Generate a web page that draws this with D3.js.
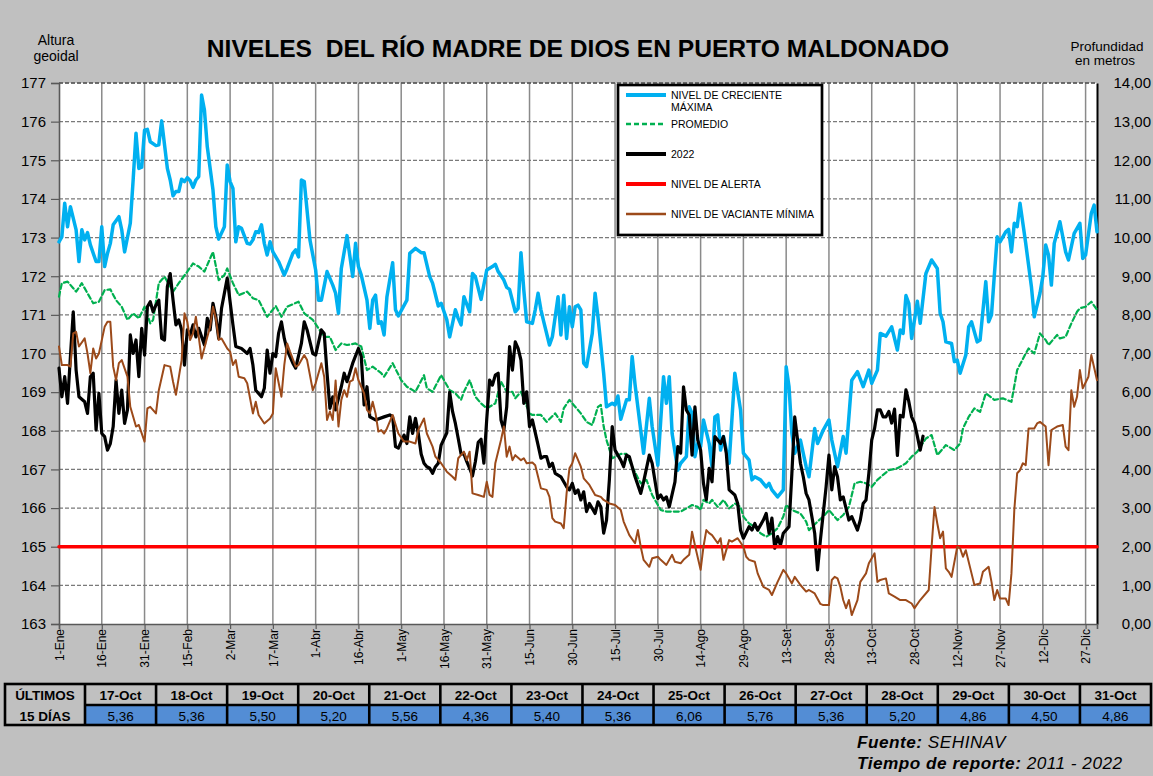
<!DOCTYPE html>
<html><head><meta charset="utf-8">
<script src="https://cdn.jsdelivr.net/npm/d3@7"></script>
<style>
html,body{margin:0;padding:0;background:#c0c0c0;}
svg{display:block;font-family:"Liberation Sans",Arial,sans-serif;}
</style></head><body>
<svg id="c" width="1153" height="776"></svg>
<script>
// ---------------- DATA ----------------
const tickLabels = ["1-Ene","16-Ene","31-Ene","15-Feb","2-Mar","17-Mar","1-Abr","16-Abr","1-May","16-May","31-May","15-Jun","30-Jun","15-Jul","30-Jul","14-Ago","29-Ago","13-Set","28-Set","13-Oct","28-Oct","12-Nov","27-Nov","12-Dic","27-Dic"];
const tickDays = [0,15,30,45,60,75,90,105,120,135,150,165,180,195,210,225,240,255,270,285,300,315,330,345,360];
const leftTicks = [163,164,165,166,167,168,169,170,171,172,173,174,175,176,177];
const rightTicks = [0,1,2,3,4,5,6,7,8,9,10,11,12,13,14];
const alertLevel = 165;

// [day of year (0 = 1-Ene), altura geoidal]
const maxSeries = [[0,172.89],[1,173.02],[2,173.89],[3,173.28],[4,173.80],[6,173.20],[7,172.38],[8,173.20],[9,172.94],[10,173.13],[11,172.81],[13,172.38],[14,172.38],[15,173.28],[16,172.25],[17,172.59],[18,172.85],[19,173.33],[21,173.54],[22,173.20],[23,172.63],[25,173.37],[26,174.49],[27,175.70],[28,174.79],[29,174.82],[30,175.78],[31,175.80],[32,175.48],[34,175.38],[35,175.40],[36,176.02],[38,174.79],[39,174.49],[40,174.08],[41,174.19],[42,174.19],[43,174.51],[44,174.45],[45,174.55],[46,174.47],[47,174.30],[48,174.49],[49,174.58],[50,176.69],[51,176.30],[52,175.35],[54,174.23],[55,173.28],[56,172.96],[58,173.28],[59,174.88],[60,174.45],[61,174.27],[62,172.89],[63,173.28],[64,173.24],[66,172.85],[67,172.83],[68,172.94],[69,173.15],[70,173.13],[71,173.33],[72,172.85],[73,172.55],[74,172.89],[75,172.63],[77,172.38],[79,172.03],[80,172.20],[82,172.59],[83,172.68],[84,172.50],[85,174.49],[86,174.45],[88,172.94],[90,172.16],[91,171.38],[92,171.38],[94,172.12],[96,171.77],[97,171.56],[98,171.04],[99,172.20],[101,173.05],[103,171.99],[104,172.85],[105,172.25],[106,172.03],[108,171.38],[109,170.65],[110,171.38],[111,171.51],[112,170.78],[113,170.82],[114,170.48],[115,171.47],[117,172.35],[118,171.13],[119,170.97],[122,171.38],[123,172.59],[125,172.72],[127,172.61],[128,172.61],[130,171.99],[131,171.82],[133,171.23],[134,171.30],[136,170.87],[137,170.43],[139,171.13],[140,170.91],[141,170.74],[142,171.47],[144,171.08],[145,172.07],[146,171.99],[148,171.40],[150,172.16],[152,172.25],[153,172.31],[154,172.12],[156,171.90],[157,171.71],[158,171.66],[160,171.08],[161,171.17],[162,172.61],[163,171.64],[164,170.82],[166,170.78],[167,171.13],[168,171.56],[169,171.13],[170,170.82],[172,170.22],[173,170.43],[175,171.47],[176,170.48],[177,171.51],[178,170.39],[179,171.21],[180,170.69],[181,171.21],[182,171.25],[183,171.13],[184,169.75],[185,169.66],[187,170.52],[188,171.56],[189,170.95],[191,169.49],[192,168.62],[194,168.71],[195,168.67],[196,168.90],[197,168.30],[199,168.80],[200,168.80],[201,169.92],[202,169.20],[205,167.42],[207,168.84],[208,168.11],[210,167.11],[212,169.40],[213,168.71],[214,169.40],[215,167.93],[217,166.98],[218,167.16],[220,167.33],[221,168.62],[222,168.45],[223,167.33],[224,167.67],[225,167.59],[226,168.28],[228,167.67],[229,167.07],[230,168.36],[231,168.41],[232,167.50],[233,167.85],[235,167.16],[237,169.49],[239,168.54],[240,167.42],[242,167.24],[243,166.73],[244,166.81],[246,166.73],[248,166.55],[249,166.64],[250,166.47],[252,166.29],[254,166.47],[255,169.66],[256,169.14],[257,167.93],[258,167.42],[260,167.76],[262,167.07],[263,166.81],[265,168.06],[266,167.67],[268,168.02],[270,168.28],[271,167.76],[273,167.07],[275,167.85],[276,167.42],[278,169.31],[280,169.53],[282,169.14],[284,169.57],[285,169.23],[287,169.57],[288,170.52],[290,170.45],[292,170.69],[294,170.09],[295,170.61],[296,170.52],[297,171.50],[298,171.30],[299,170.39],[301,171.35],[302,170.78],[304,172.07],[306,172.42],[308,172.20],[309,171.04],[310,170.82],[311,170.30],[313,170.26],[314,169.79],[315,169.83],[316,169.49],[318,169.96],[319,170.69],[320,170.82],[322,170.30],[323,170.35],[325,171.86],[326,170.82],[327,171.00],[328,172.03],[329,173.02],[330,172.89],[332,173.15],[333,173.21],[334,172.63],[335,173.37],[336,173.28],[337,173.89],[339,172.85],[341,171.73],[342,170.95],[344,171.56],[345,171.99],[346,172.81],[347,172.55],[348,171.77],[349,172.85],[351,173.41],[353,172.63],[354,172.42],[356,173.11],[358,173.37],[359,172.46],[360,172.55],[362,173.63],[363,173.84],[364,173.15]];

const avgSeries = [[0,171.47],[1,171.82],[3,171.86],[5,171.69],[6,171.60],[8,171.82],[10,171.56],[12,171.30],[14,171.34],[16,171.64],[18,171.66],[20,171.38],[22,171.21],[24,170.87],[26,171.04],[28,170.91],[30,171.21],[32,170.78],[33,170.87],[35,171.82],[37,171.99],[40,171.60],[42,171.82],[45,172.12],[47,172.33],[49,172.25],[51,172.12],[54,172.63],[56,171.90],[58,172.03],[59,172.20],[61,171.82],[63,171.51],[66,171.60],[68,171.43],[70,171.38],[73,170.95],[76,171.23],[78,170.95],[80,171.21],[84,171.34],[86,171.04],[89,170.87],[91,170.65],[93,170.43],[95,170.43],[97,170.09],[99,170.26],[101,170.22],[104,170.26],[106,170.18],[108,169.57],[110,169.66],[113,169.49],[114,169.40],[117,169.75],[120,169.31],[122,169.14],[125,169.01],[128,169.44],[129,169.10],[131,169.01],[134,169.44],[137,169.05],[139,168.97],[141,168.80],[142,169.01],[144,169.31],[146,168.88],[148,168.71],[150,168.58],[153,168.71],[155,169.27],[157,169.01],[159,169.01],[160,168.84],[162,169.01],[165,168.45],[166,168.41],[169,168.41],[171,168.23],[174,168.45],[176,168.23],[177,168.58],[179,168.80],[180,168.71],[183,168.45],[185,168.23],[187,168.15],[189,168.62],[190,168.67],[191,168.11],[192,167.76],[194,167.29],[197,167.40],[199,167.40],[201,167.07],[204,166.64],[206,166.73],[208,166.34],[211,165.95],[213,165.91],[215,165.91],[218,165.91],[220,165.99],[222,166.08],[224,166.03],[225,165.95],[226,166.21],[228,166.12],[229,166.21],[231,166.03],[233,166.21],[235,165.99],[237,166.12],[239,166.03],[240,165.78],[242,165.60],[244,165.52],[246,165.35],[248,165.26],[250,165.35],[252,165.48],[254,165.78],[255,166.08],[257,165.95],[260,165.86],[262,165.65],[263,165.43],[266,165.65],[268,165.78],[270,165.95],[273,165.69],[275,165.82],[277,166.03],[279,166.64],[281,166.68],[283,166.64],[285,166.55],[287,166.73],[289,166.86],[291,166.98],[294,167.03],[297,167.16],[299,167.33],[301,167.46],[304,167.80],[306,167.89],[308,167.37],[311,167.63],[314,167.50],[316,167.67],[317,168.06],[319,168.36],[321,168.58],[323,168.49],[325,168.97],[328,168.80],[331,168.84],[334,168.75],[336,169.57],[339,170.00],[340,170.13],[342,170.00],[344,170.52],[346,170.35],[347,170.22],[350,170.48],[351,170.39],[353,170.43],[355,170.78],[357,171.08],[358,171.17],[360,171.21],[362,171.34],[364,171.13]];

const y2022Series = [[0,169.62],[1,168.88],[2,169.40],[3,168.71],[4,169.92],[5,171.08],[6,169.57],[7,168.88],[9,168.75],[10,168.45],[11,169.40],[12,169.49],[13,168.02],[14,168.97],[15,167.93],[16,167.85],[17,167.50],[18,167.67],[19,168.11],[20,169.31],[21,168.45],[22,169.05],[23,168.19],[24,168.54],[25,170.48],[26,170.00],[27,170.35],[28,169.40],[29,170.65],[30,169.96],[31,171.21],[32,171.34],[33,171.08],[34,171.25],[35,171.38],[36,170.39],[37,170.35],[38,171.73],[39,172.07],[40,171.38],[41,170.74],[42,170.87],[43,170.61],[44,169.70],[45,170.61],[46,170.48],[47,170.74],[48,170.43],[49,170.65],[51,170.22],[52,170.91],[53,170.61],[54,171.30],[55,170.95],[56,170.39],[57,171.17],[59,171.95],[60,171.34],[61,170.74],[62,170.18],[64,170.13],[66,170.00],[67,170.13],[68,169.70],[69,169.05],[71,168.88],[72,169.10],[73,170.09],[74,169.49],[75,170.00],[76,169.92],[77,170.52],[78,170.82],[79,170.39],[80,170.09],[82,169.75],[83,169.62],[85,170.26],[86,170.82],[87,170.61],[89,170.00],[90,169.96],[92,170.61],[93,170.52],[94,169.49],[95,168.58],[96,168.88],[97,168.54],[99,169.14],[100,169.49],[101,169.27],[103,169.75],[105,170.13],[106,169.92],[107,168.67],[108,169.14],[109,168.36],[111,168.28],[114,168.36],[116,168.41],[117,168.36],[118,167.59],[119,167.55],[121,167.89],[122,167.67],[123,168.36],[124,167.93],[125,168.32],[126,167.93],[127,167.40],[128,167.16],[129,167.07],[130,167.03],[131,166.90],[132,167.07],[133,167.16],[134,167.63],[136,167.95],[137,169.00],[138,168.50],[139,168.19],[140,167.80],[141,167.40],[142,167.40],[143,167.20],[144,167.03],[145,166.83],[146,167.20],[147,167.70],[148,167.78],[149,167.16],[150,168.30],[151,169.31],[152,169.18],[153,169.44],[154,169.49],[155,168.28],[156,168.02],[157,168.62],[158,170.18],[159,169.57],[160,170.30],[161,170.13],[162,169.83],[163,168.71],[164,169.01],[165,168.11],[166,168.28],[168,167.63],[169,167.29],[170,167.33],[171,167.33],[172,167.07],[173,167.16],[174,166.90],[176,166.81],[178,166.55],[179,166.47],[180,166.64],[181,166.38],[182,166.47],[183,166.21],[184,166.42],[185,165.91],[186,166.12],[188,165.86],[189,166.16],[190,166.03],[191,165.35],[192,165.69],[193,166.73],[194,168.11],[195,167.50],[197,167.24],[198,167.07],[199,167.37],[200,167.33],[202,166.81],[204,166.38],[205,166.68],[207,167.37],[208,167.16],[210,166.25],[211,166.34],[212,166.21],[213,166.29],[214,166.03],[216,166.68],[217,167.59],[218,167.42],[219,169.14],[220,168.54],[221,168.41],[222,167.37],[223,168.62],[224,167.76],[225,167.50],[226,166.64],[227,166.21],[228,167.03],[229,166.68],[230,167.85],[232,167.67],[233,167.85],[234,167.42],[235,166.47],[237,166.34],[238,166.12],[239,165.43],[240,165.22],[242,165.52],[243,165.43],[244,165.60],[245,165.43],[247,165.69],[248,165.86],[249,165.35],[250,165.74],[251,164.96],[252,165.26],[253,165.04],[254,165.35],[256,165.52],[257,166.90],[258,168.36],[259,167.76],[260,167.16],[261,166.81],[262,166.38],[263,166.21],[264,165.78],[265,165.35],[266,164.40],[267,165.17],[269,166.55],[270,167.37],[271,166.47],[272,167.07],[273,166.81],[274,166.21],[275,166.29],[276,165.99],[277,165.69],[278,165.78],[280,165.43],[281,165.69],[282,166.12],[283,166.21],[284,166.90],[285,167.76],[286,168.06],[287,168.54],[288,168.54],[289,168.36],[290,168.36],[291,168.50],[292,168.20],[293,168.56],[294,167.36],[295,168.40],[296,168.36],[297,169.06],[298,168.76],[299,168.36],[300,168.20],[301,167.86],[302,167.50],[303,167.86]];

const minSeries = [[0,170.18],[1,169.70],[3,169.70],[4,169.66],[5,170.52],[6,170.56],[7,170.18],[9,170.39],[10,170.00],[11,169.49],[12,170.13],[13,169.87],[14,170.00],[16,170.69],[17,170.82],[18,170.82],[19,169.66],[20,169.31],[21,169.75],[22,169.83],[24,169.40],[25,168.62],[27,168.11],[28,168.15],[30,167.72],[31,168.58],[32,168.62],[34,168.45],[35,169.05],[37,169.70],[39,169.66],[40,169.27],[41,168.93],[43,169.83],[44,171.04],[45,170.82],[46,170.35],[47,170.52],[48,170.95],[49,170.43],[50,169.87],[52,170.43],[53,170.69],[54,171.21],[55,170.91],[56,170.35],[57,170.39],[59,170.13],[60,170.05],[61,169.70],[62,169.83],[63,169.40],[65,169.36],[66,169.23],[68,168.45],[69,168.75],[70,168.41],[72,168.19],[74,168.32],[75,168.45],[76,169.62],[78,168.88],[79,169.70],[80,170.26],[81,170.05],[83,169.66],[84,169.70],[85,169.83],[86,169.96],[87,169.83],[89,169.05],[90,169.23],[92,169.75],[93,169.40],[94,168.28],[95,168.50],[96,168.28],[97,169.30],[98,168.11],[99,168.80],[100,169.05],[101,168.88],[102,169.27],[103,169.31],[104,169.62],[105,169.31],[106,169.14],[107,168.97],[108,168.54],[109,168.45],[110,168.75],[111,168.45],[112,167.98],[113,168.02],[114,167.93],[115,168.06],[117,168.41],[119,167.93],[121,167.72],[123,167.72],[125,167.67],[126,168.02],[128,168.32],[129,167.93],[131,167.59],[132,167.33],[134,167.16],[136,166.94],[138,166.81],[139,166.73],[140,167.29],[142,167.46],[143,167.24],[144,167.46],[145,166.38],[147,166.34],[149,166.29],[150,166.68],[151,166.34],[152,166.29],[153,167.16],[155,167.76],[156,168.11],[157,167.33],[158,167.59],[159,167.24],[160,167.37],[162,167.24],[163,167.29],[164,167.16],[166,167.18],[167,167.11],[168,166.81],[169,166.51],[171,166.47],[172,166.29],[173,165.74],[174,165.65],[176,165.60],[177,165.48],[178,166.38],[179,167.03],[180,167.16],[181,167.42],[183,167.07],[184,166.77],[186,166.60],[188,166.34],[190,166.29],[191,166.21],[193,166.12],[195,166.08],[197,165.95],[198,165.65],[200,165.30],[202,165.09],[203,165.43],[204,165.00],[205,164.66],[207,164.48],[208,164.70],[210,164.74],[211,164.66],[213,164.53],[215,164.79],[216,164.61],[218,164.57],[219,164.66],[221,164.79],[222,165.39],[223,165.04],[225,164.40],[226,165.00],[227,165.43],[228,165.35],[229,165.30],[231,165.09],[232,165.22],[233,164.66],[235,165.17],[236,165.13],[238,165.22],[240,165.00],[241,164.74],[242,164.66],[244,164.61],[245,164.31],[247,163.96],[249,163.88],[250,163.75],[252,164.09],[254,164.40],[255,164.31],[257,164.05],[258,164.22],[260,164.01],[262,163.84],[263,163.88],[265,163.79],[267,163.52],[268,163.49],[270,163.49],[271,164.14],[272,164.22],[273,164.18],[274,163.96],[275,163.62],[276,163.41],[277,163.62],[278,163.23],[280,163.62],[281,164.09],[283,164.31],[284,164.57],[286,164.83],[287,164.09],[288,164.14],[290,164.18],[291,163.79],[293,163.71],[295,163.62],[297,163.62],[299,163.53],[300,163.41],[302,163.62],[305,163.88],[306,165.00],[307,166.03],[308,165.60],[309,165.22],[310,165.39],[311,164.44],[312,164.35],[313,164.22],[315,165.00],[316,164.96],[317,164.74],[318,164.91],[320,164.31],[321,164.01],[323,164.05],[324,164.35],[326,164.48],[327,164.09],[328,163.62],[329,163.88],[330,163.66],[332,163.66],[333,163.49],[334,164.31],[335,165.95],[336,166.90],[337,166.98],[338,167.16],[339,167.11],[340,168.06],[342,168.06],[343,168.19],[344,168.23],[346,168.11],[347,167.11],[348,168.02],[350,168.11],[352,168.15],[353,167.59],[354,167.50],[355,169.05],[356,168.62],[357,168.88],[358,169.57],[359,169.10],[361,169.40],[362,169.96],[364,169.31]];

const tableDates = ["17-Oct","18-Oct","19-Oct","20-Oct","21-Oct","22-Oct","23-Oct","24-Oct","25-Oct","26-Oct","27-Oct","28-Oct","29-Oct","30-Oct","31-Oct"];
const tableDepths = [5.36,5.36,5.50,5.20,5.56,4.36,5.40,5.36,6.06,5.76,5.36,5.20,4.86,4.50,4.86];

const legendItems = [
  {label:["NIVEL DE CRECIENTE","MÁXIMA"], key:"max"},
  {label:["PROMEDIO"], key:"avg"},
  {label:["2022"], key:"y2022"},
  {label:["NIVEL DE ALERTA"], key:"alert"},
  {label:["NIVEL DE VACIANTE MÍNIMA"], key:"min"}
];

// ---------------- STYLES ----------------
const styles = {
  max:   {stroke:"#00b0f0", width:3.5, dash:null},
  avg:   {stroke:"#00b050", width:2.2, dash:"5,3"},
  y2022: {stroke:"#000000", width:3.2, dash:null},
  alert: {stroke:"#ff0000", width:3.5, dash:null},
  min:   {stroke:"#9c4a1a", width:2, dash:null}
};

const W = 1153, H = 776;
const P = {left:59, right:1097, top:83, bottom:624};
const svg = d3.select("#c");
svg.append("rect").attr("width",W).attr("height",H).attr("fill","#c0c0c0");

const x = d3.scaleLinear().domain([0,364]).range([P.left,P.right]);
const y = d3.scaleLinear().domain([163,177]).range([P.bottom,P.top]);
const yR = d3.scaleLinear().domain([0,14]).range([P.bottom,P.top]);

const loc = d3.formatLocale({decimal:",", thousands:".", grouping:[3], currency:["",""]});
const f2 = loc.format(".2f");

// plot background
svg.append("rect").attr("x",P.left).attr("y",P.top).attr("width",P.right-P.left).attr("height",P.bottom-P.top).attr("fill","#ffffff");

// grid
const grid = svg.append("g");
grid.selectAll("line.v").data(tickDays.filter(d=>d>0)).join("line")
  .attr("x1",d=>x(d)).attr("x2",d=>x(d)).attr("y1",P.top).attr("y2",P.bottom)
  .attr("stroke","#8a8a8a").attr("stroke-width",1.5);
grid.selectAll("line.h").data(leftTicks.filter(d=>d>163)).join("line")
  .attr("x1",P.left).attr("x2",P.right).attr("y1",d=>y(d)).attr("y2",d=>y(d))
  .attr("stroke","#7a7a7a").attr("stroke-width",1.2).attr("stroke-dasharray","4,2");

// axes
const axL = svg.append("g").attr("transform",`translate(${P.left},0)`)
  .call(d3.axisLeft(y).tickValues(leftTicks).tickFormat(d3.format("d")).tickSize(8).tickPadding(5));
axL.select(".domain").attr("stroke","#595959").attr("stroke-width",1.6);
axL.selectAll(".tick line").attr("stroke","#595959").attr("stroke-width",1.2);
axL.selectAll("text").attr("font-size",15).attr("fill","#000").attr("font-family","Liberation Sans, Arial, sans-serif");

const axR = svg.append("g").attr("transform",`translate(${P.right},0)`)
  .call(d3.axisRight(yR).tickValues(rightTicks).tickFormat(f2).tickSize(0).tickPadding(54));
axR.select(".domain").attr("stroke","#000").attr("stroke-width",2);
axR.selectAll("text").attr("text-anchor","end").attr("font-size",15).attr("fill","#000").attr("font-family","Liberation Sans, Arial, sans-serif");

const axB = svg.append("g").attr("transform",`translate(0,${P.bottom})`)
  .call(d3.axisBottom(x).tickValues(tickDays).tickFormat((d,i)=>tickLabels[i]).tickSize(5));
axB.select(".domain").attr("stroke","#595959").attr("stroke-width",1.6);
axB.selectAll(".tick line").attr("stroke","#595959").attr("stroke-width",1.2);
axB.selectAll("text").attr("transform","rotate(-90)").attr("text-anchor","end")
  .attr("x",-5).attr("y",0).attr("dy","0.35em")
  .attr("font-size",12).attr("fill","#000").attr("font-family","Liberation Sans, Arial, sans-serif");

svg.append("line").attr("x1",P.left).attr("x2",P.right).attr("y1",y(177)).attr("y2",y(177))
  .attr("stroke","#555").attr("stroke-width",1.4).attr("stroke-dasharray","4,2");

// series
const line = d3.line().x(d=>x(d[0])).y(d=>y(d[1]));
const plotG = svg.append("g");
function drawSeries(data, st){
  plotG.append("path").datum(data).attr("d",line).attr("fill","none")
    .attr("stroke",st.stroke).attr("stroke-width",st.width)
    .attr("stroke-dasharray",st.dash).attr("stroke-linejoin","round").attr("stroke-linecap","round");
}
drawSeries(maxSeries, styles.max);
drawSeries(avgSeries, styles.avg);
drawSeries(y2022Series, styles.y2022);
drawSeries([[0,alertLevel],[364,alertLevel]], styles.alert);
drawSeries(minSeries, styles.min);

// title & axis titles
svg.append("text").attr("x",578).attr("y",57).attr("text-anchor","middle")
  .attr("font-size",24.6).attr("font-weight","bold").attr("fill","#000")
  .style("white-space","pre").text("NIVELES  DEL RÍO MADRE DE DIOS EN PUERTO MALDONADO");
svg.append("text").attr("x",56).attr("y",45).attr("text-anchor","middle").attr("font-size",14).text("Altura");
svg.append("text").attr("x",56).attr("y",61).attr("text-anchor","middle").attr("font-size",14).text("geoidal");
svg.append("text").attr("x",1107).attr("y",50.5).attr("text-anchor","middle").attr("font-size",13.5).text("Profundidad");
svg.append("text").attr("x",1105).attr("y",64.5).attr("text-anchor","middle").attr("font-size",13.5).text("en metros");

// legend
const lg = svg.append("g");
lg.append("rect").attr("x",618).attr("y",85).attr("width",204).attr("height",150)
  .attr("fill","#fff").attr("stroke","#000").attr("stroke-width",2.7);
const legY = [95,124,154,184,214];
legendItems.forEach((it,i)=>{
  const st = styles[it.key];
  lg.append("line").attr("x1",626).attr("x2",666).attr("y1",legY[i]).attr("y2",legY[i])
    .attr("stroke",st.stroke).attr("stroke-width",it.key==="avg"||it.key==="min"?2.5:4)
    .attr("stroke-dasharray",st.dash);
  it.label.forEach((t,j)=>{
    lg.append("text").attr("x",671).attr("y",legY[i]+4+j*12).attr("font-size",10.5).attr("fill","#000").text(t);
  });
});

// table
const tb = svg.append("g");
const col = d3.scaleBand().domain(tableDates).range([85,1151]);
const r1 = 684, r2 = 705, r3 = 725;
tb.append("rect").attr("x",5).attr("y",r1).attr("width",1146).attr("height",r3-r1).attr("fill","#c0c0c0");
tb.selectAll("rect.v").data(tableDates).join("rect")
  .attr("x",d=>col(d)).attr("y",r2).attr("width",col.bandwidth()).attr("height",r3-r2).attr("fill","#538dd5");
tb.selectAll("text.h").data(tableDates).join("text")
  .attr("x",d=>col(d)+col.bandwidth()/2).attr("y",r1+15.5).attr("text-anchor","middle")
  .attr("font-size",13.5).attr("font-weight","bold").attr("fill","#000").text(d=>d);
tb.selectAll("text.val").data(tableDepths).join("text")
  .attr("x",(d,i)=>col(tableDates[i])+col.bandwidth()/2).attr("y",r2+15.5).attr("text-anchor","middle")
  .attr("font-size",13.5).attr("fill","#000").text(d=>f2(d));
tb.append("text").attr("x",45).attr("y",r1+15.5).attr("text-anchor","middle").attr("font-size",13.5).attr("font-weight","bold").text("ÚLTIMOS");
tb.append("text").attr("x",45).attr("y",r2+15.5).attr("text-anchor","middle").attr("font-size",13.5).attr("font-weight","bold").text("15 DÍAS");
tb.append("rect").attr("x",5).attr("y",r1).attr("width",1146).attr("height",r3-r1).attr("fill","none").attr("stroke","#000").attr("stroke-width",2.6);
tb.append("line").attr("x1",85).attr("x2",1151).attr("y1",r2).attr("y2",r2).attr("stroke","#000").attr("stroke-width",2.6);
tb.selectAll("line.c").data(tableDates).join("line")
  .attr("x1",d=>col(d)).attr("x2",d=>col(d)).attr("y1",r1).attr("y2",r3).attr("stroke","#000").attr("stroke-width",2.6);

// footer
const ft = svg.append("g").attr("font-size",17.2).attr("font-style","italic").attr("fill","#000").attr("letter-spacing","0.5px");
const t1 = ft.append("text").attr("x",857).attr("y",748);
t1.append("tspan").attr("font-weight","bold").text("Fuente:");
t1.append("tspan").text(" SEHINAV");
const t2 = ft.append("text").attr("x",857).attr("y",769);
t2.append("tspan").attr("font-weight","bold").text("Tiempo de reporte:");
t2.append("tspan").text(" 2011 - 2022");
</script>
</body></html>
